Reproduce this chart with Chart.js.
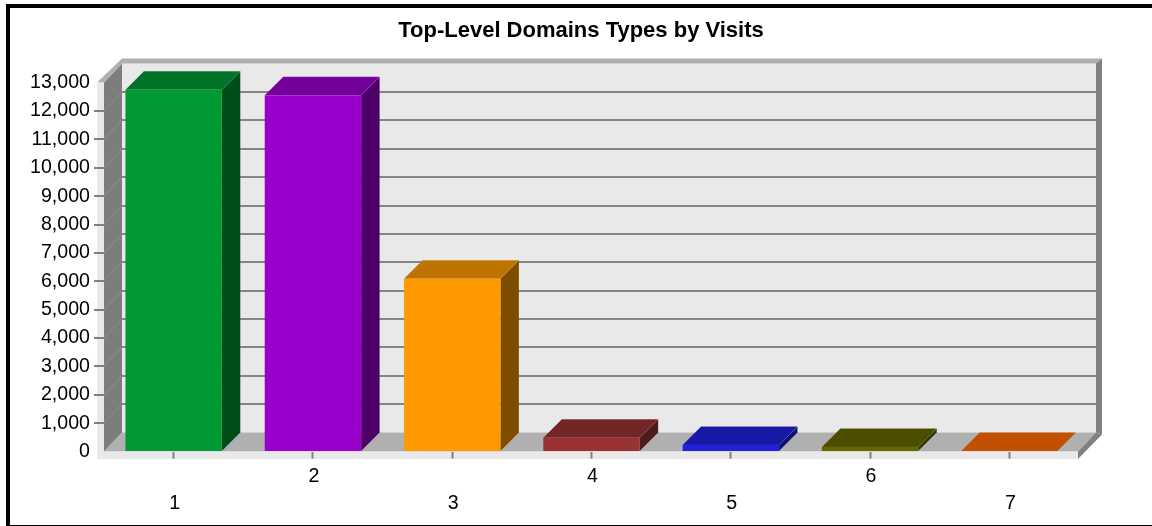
<!DOCTYPE html>
<html>
<head>
<meta charset="utf-8">
<title>Top-Level Domains Types by Visits</title>
<script src="https://cdn.jsdelivr.net/npm/chart.js@4"></script>
<style>
html, body { margin: 0; padding: 0; background: #fff; overflow: hidden; }
#frame { position: absolute; left: 6px; top: 4px; border-left: 4px solid #000; border-top: 4px solid #000; border-bottom: 1px solid #000; height: 517px; width: 1142px; }
</style>
</head>
<body>
<div id="frame"><canvas id="myChart" width="1142" height="517"></canvas></div>
<script>
// data
const categories = ['1', '2', '3', '4', '5', '6', '7'];
const visits = [12750, 12550, 6090, 490, 233, 162, 20];
const yMax = 13000;
const yStep = 1000;

// colours, one per bar
const frontColors = ['#009933', '#9900cc', '#ff9900', '#993333', '#2020dd', '#666600', '#cc5200'];
const topColors = ['#007326', '#730099', '#bf7300', '#732626', '#1818a6', '#4d4d00', '#c25000'];
const sideColors = ['#004d1a', '#4d0066', '#804d00', '#4d1a1a', '#10106e', '#333300', '#662900'];

// depth of the fake 3d box
const depthX = 18;
const depthY = 19;

function poly(ctx, pts, fill, stroke) {
  ctx.beginPath();
  ctx.moveTo(pts[0][0], pts[0][1]);
  for (let i = 1; i < pts.length; i++) ctx.lineTo(pts[i][0], pts[i][1]);
  ctx.closePath();
  ctx.fillStyle = fill;
  ctx.fill();
  if (stroke) {
    ctx.strokeStyle = stroke;
    ctx.lineWidth = 0.6;
    ctx.stroke();
  }
}

// walls, floor and grid
const boxPlugin = {
  id: 'box',
  afterLayout(chart) {
    // title sits over the whole canvas, not just the left part
    chart.titleBlock.left += 36.5;
    chart.titleBlock.right += 36.5;
    chart.titleBlock.top += 1;
    chart.titleBlock.bottom += 1;
  },
  beforeDraw(chart) {
    const ctx = chart.ctx;
    const a = chart.chartArea;
    const l = a.left, r = a.right - 1, t = a.top, b = a.bottom;
    ctx.save();
    // back wall
    poly(ctx, [[l + depthX, t - depthY], [r + depthX, t - depthY], [r + depthX, b - depthY], [l + depthX, b - depthY]], '#e9e9e9');
    // floor
    poly(ctx, [[l, b], [l + depthX, b - depthY], [r + depthX, b - depthY], [r, b]], '#b0b0b0');
    // left wall
    poly(ctx, [[l, t], [l + depthX, t - depthY], [l + depthX, b - depthY], [l, b]], '#7d7d7d');
    // top rim
    poly(ctx, [[l + depthX, t - depthY], [l + depthX, t - depthY - 5], [r + depthX + 6, t - depthY - 5], [r + depthX, t - depthY]], '#b0b0b0');
    poly(ctx, [[l - 7, t], [l, t], [l + depthX, t - depthY], [l + depthX, t - depthY - 5]], '#b0b0b0');
    // right rim
    poly(ctx, [[r + depthX, t - depthY], [r + depthX + 6, t - depthY - 5], [r + depthX + 6, b - depthY + 2], [r + depthX, b - depthY]], '#808080');
    poly(ctx, [[r, b], [r + depthX, b - depthY], [r + depthX + 6, b - depthY + 2], [r, b + 7.5]], '#808080');
    // light front strips
    ctx.fillStyle = '#e9e9e9';
    ctx.fillRect(l - 7, t, 7, b - t + 7.5);
    ctx.fillRect(l - 7, b, r - l + 7, 7.5);
    // grid on back wall and left wall, tick marks in front, none at the axis ends
    chart.scales.y.ticks.forEach(tick => {
      if (tick.value === 0 || tick.value === yMax) return;
      const y = Math.round(chart.scales.y.getPixelForValue(tick.value));
      ctx.strokeStyle = '#8f8f8f';
      ctx.lineWidth = 1;
      ctx.beginPath();
      ctx.moveTo(l, y);
      ctx.lineTo(l + depthX, y - depthY);
      ctx.stroke();
      ctx.strokeStyle = '#858585';
      ctx.lineWidth = 2;
      ctx.beginPath();
      ctx.moveTo(l + depthX, y - depthY);
      ctx.lineTo(r + depthX, y - depthY);
      ctx.stroke();
      ctx.strokeStyle = '#808080';
      ctx.beginPath();
      ctx.moveTo(l - 10, y);
      ctx.lineTo(l, y);
      ctx.stroke();
    });
    ctx.restore();
  },
  beforeDatasetsDraw(chart) {
    const ctx = chart.ctx;
    ctx.save();
    chart.getDatasetMeta(0).data.forEach((bar, i) => {
      const x0 = bar.x - bar.width / 2;
      const x1 = bar.x + bar.width / 2;
      const dx = depthX + 0.5;
      const dy = depthY - 0.5;
      poly(ctx, [[x1, bar.y], [x1 + dx, bar.y - dy], [x1 + dx, bar.base - dy], [x1, bar.base]], sideColors[i], 'rgba(255,255,255,0.12)');
      poly(ctx, [[x0, bar.y], [x0 + dx, bar.y - dy], [x1 + dx, bar.y - dy], [x1, bar.y]], topColors[i], 'rgba(255,255,255,0.12)');
    });
    ctx.restore();
  }
};

const data = {
  labels: categories,
  datasets: [{
    data: visits,
    backgroundColor: frontColors,
    borderWidth: 0,
    barPercentage: 0.692,
    categoryPercentage: 1
  }]
};

const config = {
  type: 'bar',
  data,
  plugins: [boxPlugin],
  options: {
    responsive: false,
    animation: false,
    layout: { padding: { left: 0, right: 73, top: 0, bottom: 0 } },
    plugins: {
      legend: { display: false },
      tooltip: { enabled: false },
      title: {
        display: true,
        text: 'Top-Level Domains Types by Visits',
        color: '#000',
        font: { family: '"Liberation Sans"', size: 22, weight: 'bold', lineHeight: 1.2 },
        padding: { top: 8.8, bottom: 39.4 }
      }
    },
    scales: {
      x: {
        border: { display: false },
        grid: { drawOnChartArea: false, drawTicks: true, tickLength: 7, tickColor: '#808080', tickWidth: 2, offset: false },
        afterFit(scale) { scale.height = 73.4; },
        ticks: {
          autoSkip: false,
          maxRotation: 0,
          minRotation: 0,
          padding: 4,
          labelOffset: 1,
          color: '#000',
          font: { family: '"Liberation Sans"', size: 19.6, lineHeight: 1.38 },
          // odd categories go on the lower row
          callback(value, index) {
            const label = categories[index];
            return index % 2 === 0 ? ['', label] : [label, ''];
          }
        }
      },
      y: {
        min: 0,
        max: yMax,
        border: { display: false },
        grid: { drawOnChartArea: false, drawTicks: false },
        afterFit(scale) { scale.width = 94; },
        ticks: {
          stepSize: yStep,
          padding: 14,
          color: '#000',
          font: { family: '"Liberation Sans"', size: 19.6 },
          callback: value => value.toLocaleString('en-US')
        }
      }
    }
  }
};

const myChart = new Chart(document.getElementById('myChart'), config);
</script>
</body>
</html>
